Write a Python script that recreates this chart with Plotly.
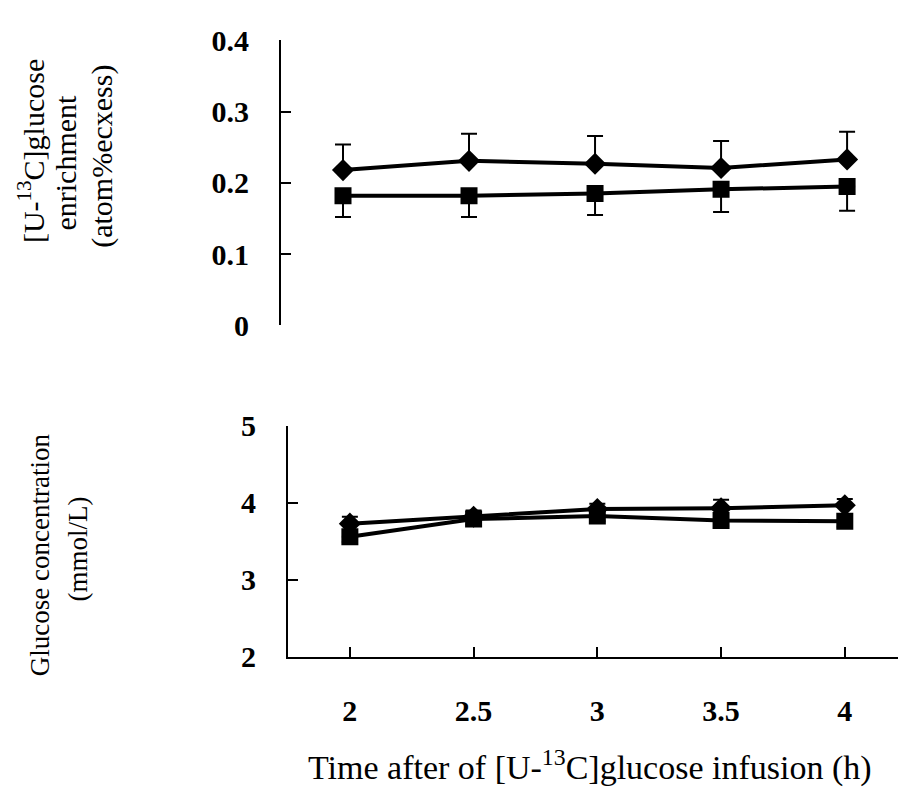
import plotly.graph_objects as go

# ---- data ----
time_h = [2, 2.5, 3, 3.5, 4]
x_ticktext = ["2", "2.5", "3", "3.5", "4"]

# top panel: [U-13C]glucose enrichment (atom% excess)
enrich_diamond = [0.218, 0.231, 0.227, 0.221, 0.233]
enrich_diamond_err = [0.036, 0.038, 0.039, 0.038, 0.039]
enrich_square = [0.182, 0.182, 0.185, 0.191, 0.195]
enrich_square_err = [0.030, 0.030, 0.030, 0.032, 0.034]

# bottom panel: glucose concentration (mmol/L)
gluc_diamond = [3.73, 3.82, 3.92, 3.93, 3.97]
gluc_diamond_err = [0.09, 0.08, 0.07, 0.11, 0.08]
gluc_square = [3.56, 3.79, 3.83, 3.77, 3.76]
gluc_square_err = [0.07, 0.07, 0.07, 0.07, 0.07]

zeros = [0] * len(time_h)

W, H = 898, 804
FONT = "Liberation Serif"
BLACK = "black"

fig = go.Figure()


def add_series(x, y, err_up, err_down, symbol, size, xa, ya):
    fig.add_trace(go.Scatter(
        x=x, y=y, mode="lines+markers",
        line=dict(color=BLACK, width=4),
        marker=dict(symbol=symbol, size=size, color=BLACK),
        error_y=dict(type="data", symmetric=False, array=err_up, arrayminus=err_down,
                     color=BLACK, thickness=2, width=8),
        xaxis=xa, yaxis=ya, showlegend=False, hoverinfo="skip",
    ))


add_series(time_h, enrich_square, zeros, enrich_square_err, "square", 17, "x", "y")
add_series(time_h, enrich_diamond, enrich_diamond_err, zeros, "diamond", 17, "x", "y")
add_series(time_h, gluc_square, zeros, gluc_square_err, "square", 17, "x2", "y2")
add_series(time_h, gluc_diamond, gluc_diamond_err, zeros, "diamond", 17, "x2", "y2")

tickfont = dict(family=FONT, size=30, color=BLACK, weight="bold")

# pixel geometry
top_left, bot_left = 281, 288
top_y0, top_y1 = 322, 24.5
bot_y0, bot_y1 = 668, 427

fig.update_layout(
    width=W, height=H,
    margin=dict(l=0, r=0, t=0, b=0),
    paper_bgcolor="white", plot_bgcolor="white",
    showlegend=False,
    xaxis=dict(domain=[top_left / W, 1], range=[1.754, 4.202], anchor="y",
               showline=False, showticklabels=False, ticks="", showgrid=False, zeroline=False),
    yaxis=dict(domain=[1 - top_y0 / H, 1 - top_y1 / H], range=[0, 0.4], anchor="x",
               tickvals=[0, 0.1, 0.2, 0.3, 0.4], ticktext=["0", "0.1", "0.2", "0.3", "0.4"],
               showline=True, linecolor=BLACK, linewidth=2,
               ticks="inside", ticklen=10, tickwidth=2, tickcolor=BLACK,
               tickfont=tickfont, ticklabelstandoff=24,
               showgrid=False, zeroline=False),
    xaxis2=dict(domain=[bot_left / W, 1], range=[1.75, 4.215], anchor="y2",
                tickvals=time_h, ticktext=x_ticktext,
                showline=True, linecolor=BLACK, linewidth=2,
                ticks="inside", ticklen=10, tickwidth=2, tickcolor=BLACK,
                tickfont=tickfont, ticklabelstandoff=26,
                showgrid=False, zeroline=False),
    yaxis2=dict(domain=[1 - bot_y0 / H, 1 - bot_y1 / H], range=[2, 5], anchor="x2",
                tickvals=[2, 3, 4, 5], ticktext=["2", "3", "4", "5"],
                showline=True, linecolor=BLACK, linewidth=2,
                ticks="inside", ticklen=10, tickwidth=2, tickcolor=BLACK,
                tickfont=tickfont, ticklabelstandoff=24,
                showgrid=False, zeroline=False),
)


def ann(text, xpx, ypx, size, angle=-90):
    fig.add_annotation(text=text, xref="paper", yref="paper",
                       x=xpx / W, y=1 - ypx / H, xanchor="center", yanchor="middle",
                       textangle=angle, showarrow=False,
                       font=dict(family=FONT, size=size, color=BLACK))


ann("[U-<sup>13</sup>C]glucose", 31, 140, 30)
ann("enrichment", 66, 152, 30)
ann("(atom%ecxess)", 102, 146, 30)
ann("Glucose concentration", 40, 562, 27)
ann("(mmol/L)", 78, 556, 27)
ann("Time after of [U-<sup>13</sup>C]glucose infusion (h)", 590, 782, 34, angle=0)

fig.write_html("out.html")
